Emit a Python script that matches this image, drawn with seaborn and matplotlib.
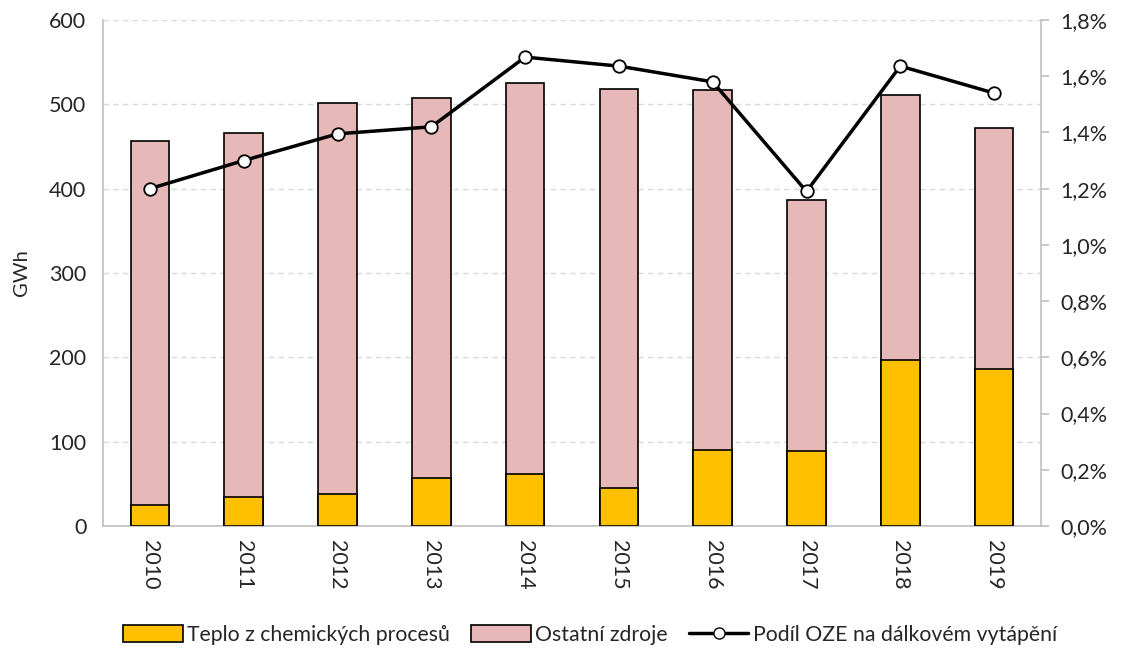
import numpy as np
import pandas as pd
import matplotlib
matplotlib.use("Agg")
import matplotlib.pyplot as plt
import seaborn as sns
from matplotlib.patches import Patch
from matplotlib.lines import Line2D
from matplotlib.ticker import FuncFormatter, FixedLocator

# data
years = ["2010", "2011", "2012", "2013", "2014", "2015", "2016", "2017", "2018", "2019"]
chem_heat = [25, 34, 38, 57, 62, 45, 90, 89, 197, 186]          # Teplo z chemických procesů (GWh)
total_heat = [457, 466, 502, 508, 525, 518, 517, 387, 511, 472]  # bar top (GWh)
oze_share = [1.20, 1.30, 1.395, 1.42, 1.668, 1.636, 1.58, 1.19, 1.636, 1.54]  # %

df = pd.DataFrame({"year": years, "chem": chem_heat, "total": total_heat, "share": oze_share})

sns.set_style("white")
plt.rcParams["font.family"] = ["Lato", "DejaVu Sans"]
fs = 15.5

yellow = "#FFC000"
pink = "#E6B8B7"
grey = "#BFBFBF"

fig = plt.figure(figsize=(11.21, 6.5), dpi=100)
ax = fig.add_axes([103 / 1121, 1 - 526 / 650, (1041 - 103) / 1121, (526 - 20) / 650])

# stacked bars: draw totals in pink, then the chemical part in yellow over them
sns.barplot(data=df, x="year", y="total", color=pink, edgecolor="black",
            linewidth=1.2, width=0.41, saturation=1, ax=ax, zorder=2)
sns.barplot(data=df, x="year", y="chem", color=yellow, edgecolor="black",
            linewidth=1.2, width=0.41, saturation=1, ax=ax, zorder=3)

ax.set_xlim(-0.5, len(years) - 0.5)
ax.set_ylim(0, 600)
ax.set_yticks(range(0, 601, 100))
ax.yaxis.grid(True, color="#D9D9D9", linestyle=(0, (4, 3)), linewidth=1)
ax.set_axisbelow(True)
ax.set_xlabel("")
ax.set_ylabel("GWh", fontsize=fs - 1, labelpad=14)
ax.tick_params(axis="y", length=0, pad=12, labelsize=fs)
ax.tick_params(axis="x", which="major", length=0, pad=10, labelsize=fs)
ax.xaxis.set_minor_locator(FixedLocator(np.arange(-0.5, len(years), 1.0)))
ax.tick_params(axis="x", which="minor", length=7, direction="out", color=grey, width=1.2)
for lab in ax.get_xticklabels():
    lab.set_rotation(-90)
for side in ["top", "right"]:
    ax.spines[side].set_visible(False)
for side in ["left", "bottom"]:
    ax.spines[side].set_color(grey)
    ax.spines[side].set_linewidth(1.2)

# share of renewables on the right axis
ax2 = ax.twinx()
ax2.plot(df["year"], df["share"], color="black", linewidth=2.5, marker="o",
         markersize=9, markerfacecolor="white", markeredgecolor="black",
         markeredgewidth=1.3, zorder=5)
ax2.set_ylim(0, 1.8)
ax2.set_yticks(np.arange(0, 1.81, 0.2))
ax2.yaxis.set_major_formatter(FuncFormatter(lambda v, p: f"{v:.1f}%".replace(".", ",")))
ax2.tick_params(axis="y", length=6, direction="out", color=grey, width=1.2, pad=8, labelsize=fs)
for side in ["top", "left", "bottom"]:
    ax2.spines[side].set_visible(False)
ax2.spines["right"].set_color(grey)
ax2.spines["right"].set_linewidth(1.2)

handles = [
    Patch(facecolor=yellow, edgecolor="black", linewidth=1.2, label="Teplo z chemických procesů"),
    Patch(facecolor=pink, edgecolor="black", linewidth=1.2, label="Ostatní zdroje"),
    Line2D([0], [0], color="black", linewidth=2.5, marker="o", markersize=8,
           markerfacecolor="white", markeredgecolor="black", label="Podíl OZE na dálkovém vytápění"),
]
fig.legend(handles=handles, loc="center", bbox_to_anchor=(590 / 1121, 1 - 635 / 650),
           ncol=3, frameon=False, fontsize=15.3, handlelength=2.8, handleheight=0.8,
           handletextpad=0.2, columnspacing=1.0)

fig.savefig("out.png", dpi=100)
